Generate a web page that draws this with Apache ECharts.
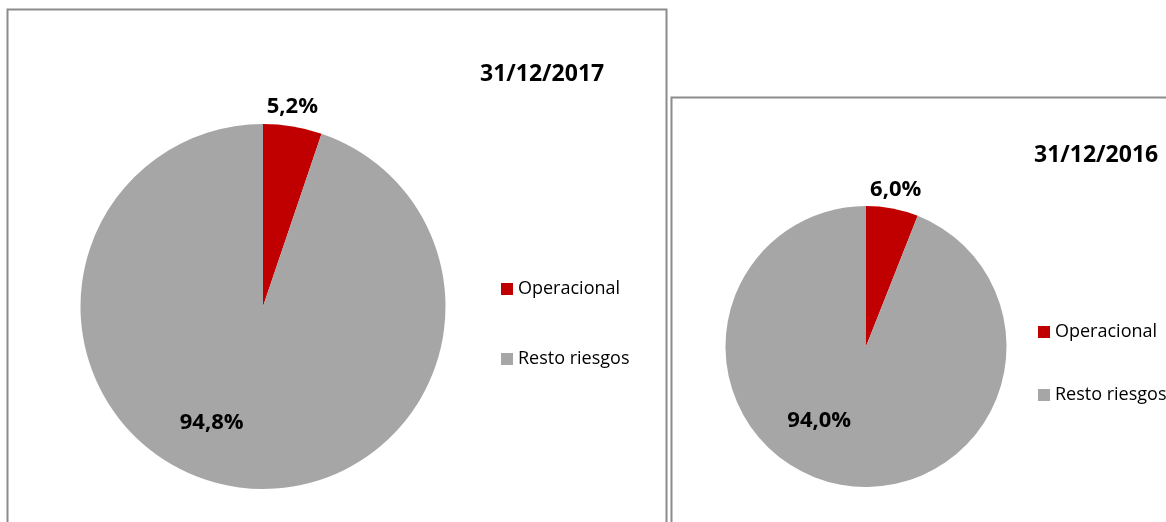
<!DOCTYPE html>
<html>
<head>
<meta charset="utf-8">
<script src="https://cdn.jsdelivr.net/npm/echarts@6/dist/echarts.min.js"></script>
<style>
    html, body { margin: 0; padding: 0; background: #fff; }
    #main { width: 1166px; height: 522px; }
</style>
</head>
<body>
<div id="main"></div>
<script>
// datos
var categories = ['Operacional', 'Resto riesgos'];
var values2017 = [5.2, 94.8];
var values2016 = [6.0, 94.0];
var titles = ['31/12/2017', '31/12/2016'];
var colors = ['#C00000', '#A6A6A6'];

// desplazamiento de las etiquetas respecto a su posicion 'inside'
var labelShift2017 = [[14, -107], [-36, 23]];
var labelShift2016 = [[16, -85], [-33, 2]];

var font = '"Open Sans", "Liberation Sans", sans-serif';

function toData(values) {
    return values.map(function(v, i) {
        return { name: categories[i], value: v };
    });
}

function pieSeries(name, values, center, radius, shift) {
    return {
        name: name,
        type: 'pie',
        center: center,
        radius: radius,
        startAngle: 90,
        clockwise: true,
        silent: true,
        data: toData(values),
        label: {
            show: true,
            position: 'inside',
            color: '#000',
            fontFamily: font,
            fontWeight: 'bold',
            fontSize: 22,
            formatter: function(p) {
                return p.value.toFixed(1).replace('.', ',') + '%';
            }
        },
        labelLine: { show: false },
        labelLayout: function(params) {
            var s = shift[params.dataIndex];
            return { dx: s[0], dy: s[1] };
        },
        itemStyle: { borderWidth: 0 },
        emphasis: { disabled: true }
    };
}

function legendAt(left, top, gap) {
    return {
        orient: 'vertical',
        left: left,
        top: top,
        padding: 0,
        itemWidth: 12,
        itemHeight: 12,
        itemGap: gap,
        icon: 'rect',
        selectedMode: false,
        data: categories,
        textStyle: {
            color: '#000',
            fontFamily: font,
            fontSize: 18,
            lineHeight: 12,
            padding: [0, 0, 0, 0]
        }
    };
}

var myChart = echarts.init(document.getElementById('main'));
var option = {
    animation: false,
    backgroundColor: '#fff',
    color: colors,
    title: [{
        text: titles[0],
        left: 480,
        top: 63,
        padding: 0,
        textStyle: { fontFamily: font, fontWeight: 'bold', fontSize: 23, color: '#000' }
    }, {
        text: titles[1],
        left: 1034,
        top: 144,
        padding: 0,
        textStyle: { fontFamily: font, fontWeight: 'bold', fontSize: 23, color: '#000' }
    }],
    legend: [legendAt(501, 280, 52), legendAt(1038, 323, 45)],
    graphic: [{
        type: 'rect',
        shape: { x: 7.5, y: 9.5, width: 659, height: 600 },
        style: { fill: 'none', stroke: '#8C8C8C', lineWidth: 2 },
        z: -1
    }, {
        type: 'rect',
        shape: { x: 671.5, y: 97.5, width: 600, height: 600 },
        style: { fill: '#fff', stroke: '#8C8C8C', lineWidth: 2 },
        z: -1
    }],
    series: [
        pieSeries('2017', values2017, [263, 306.5], 182.5, labelShift2017),
        pieSeries('2016', values2016, [866, 346.5], 140.5, labelShift2016)
    ]
};
myChart.setOption(option);
</script>
</body>
</html>
